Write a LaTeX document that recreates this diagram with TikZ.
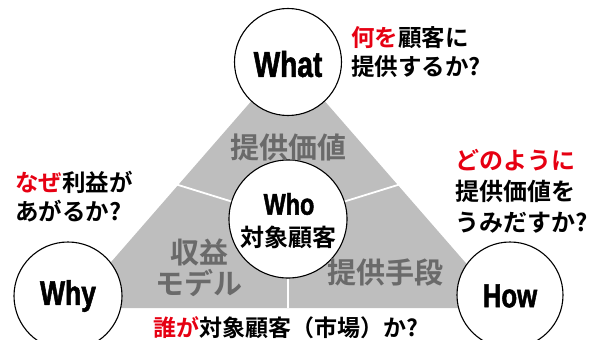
\documentclass[tikz,border=0pt]{standalone}
\usepackage{fontspec}
\newfontfamily\jp{Noto Sans CJK JP}[BoldFont={Noto Sans CJK JP Bold}]
\newfontfamily\latf{Liberation Sans}[FakeStretch=0.78,FakeBold=1.5]
\definecolor{trigray}{HTML}{BEBEBE}
\definecolor{txtgray}{HTML}{6A6A6A}
\definecolor{accred}{HTML}{E60012}
\tikzset{
  circ/.style={circle, draw=black, line width=1.1pt, fill=white, inner sep=0pt},
  divline/.style={draw=white, line width=1.8pt},
  latin/.style={inner sep=0pt, text=black},
  anno/.style={inner sep=0pt, align=left, text=black},
  graytxt/.style={inner sep=0pt, align=center, text=txtgray, font=\jp\bfseries\fontsize{29}{31}\selectfont},
}
\begin{document}
\begin{tikzpicture}[x=1pt,y=-1pt]
\useasboundingbox (0,0) rectangle (598,340);
% triangle
\fill[trigray] (288,59) -- (505,308) -- (71,308) -- cycle;
% circles
\node[circ, minimum size=118pt] (who) at (288,219) {};
\coordinate (dl) at (175,184);
\coordinate (dr) at (401,184);
\coordinate (db) at (288,308);
\draw[divline] (who) -- (dl);
\draw[divline] (who) -- (dr);
\draw[divline] (who) -- (db);
\node[circ, minimum size=107pt] (what) at (288,62) {};
\node[circ, minimum size=108pt] (why) at (68,296) {};
\node[circ, minimum size=106pt] (how) at (510,295) {};
% circle texts
\node[latin, font=\latf\bfseries\fontsize{36}{36}\selectfont] (whatt) at (288,64) {What};
\node[latin, font=\latf\bfseries\fontsize{30}{30}\selectfont] (whot) at (289,204) {Who};
\node[latin, font=\jp\bfseries\fontsize{24}{26}\selectfont] (whoj) at (288,237) {対象顧客};
\node[latin, font=\latf\bfseries\fontsize{34}{34}\selectfont] (whyt) at (68,296) {Why};
\node[latin, font=\latf\bfseries\fontsize{33}{33}\selectfont] (howt) at (510,296) {How};
% gray labels
\node[graytxt] (val) at (288,147) {提供価値};
\node[graytxt] (rev) at (199,268) {収益\\モデル};
\node[graytxt] (means) at (385,272) {提供手段};
% annotations
\node[anno, anchor=west, font=\jp\bfseries\fontsize{23.5}{29}\selectfont] (whatq) at (351,52) {\textcolor{accred}{何を}顧客に\\提供するか?};
\node[anno, anchor=west, font=\jp\bfseries\fontsize{23.5}{29}\selectfont] (whyq) at (15,197) {\textcolor{accred}{なぜ}利益が\\あがるか?};
\node[anno, anchor=west, font=\jp\bfseries\fontsize{24}{31}\selectfont] (howq) at (455,191) {\textcolor{accred}{どのように}\\提供価値を\\うみだすか?};
\node[anno, font=\jp\bfseries\fontsize{23}{25}\selectfont] (whoq) at (286,328) {\textcolor{accred}{誰が}対象顧客（市場）か?};
\end{tikzpicture}
\end{document}
